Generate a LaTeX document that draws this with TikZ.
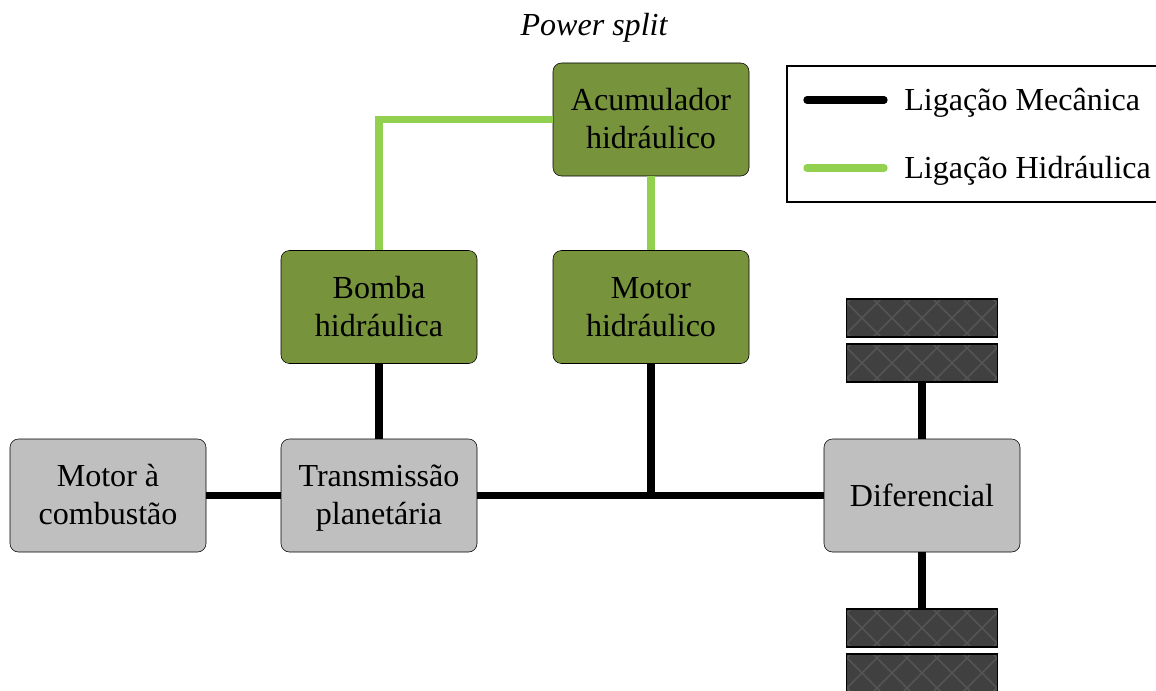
\documentclass[tikz,border=0pt]{standalone}
\usepackage{fontspec}
\setmainfont{Liberation Serif}
\definecolor{hydrogreen}{RGB}{146,208,80}
\definecolor{boxgreen}{RGB}{119,147,60}
\definecolor{boxgray}{RGB}{191,191,191}
\definecolor{tyredark}{RGB}{64,64,64}
\definecolor{tyrehatch}{RGB}{84,84,84}
\newcommand{\blockstrut}{\rule[-5.3pt]{0pt}{25pt}}
\tikzset{
	block/.style={draw=black, rounded corners=6pt, minimum width=196*0.025cm, minimum height=113*0.025cm, align=center, font=\fontsize{22.8}{27}\selectfont, inner sep=0pt},
	graybox/.style={block, fill=boxgray},
	greenbox/.style={block, fill=boxgreen},
	tyre/.style={draw=black, line width=1.4pt, fill=tyredark, minimum width=151*0.025cm, minimum height=38*0.025cm, inner sep=0pt,
		path picture={
			\foreach \i in {-8, -7, ..., 8}{
				\draw[tyrehatch, line width=1.1pt] ([xshift=\i*0.75cm-1cm, yshift=-1cm]path picture bounding box.center) -- ++(2cm, 2cm);
				\draw[tyrehatch, line width=1.1pt] ([xshift=\i*0.75cm+1cm, yshift=-1cm]path picture bounding box.center) -- ++(-2cm, 2cm);
			}
		}},
	mech/.style={line width=5.2pt, black},
	hydro/.style={line width=5.2pt, hydrogreen},
	legendtext/.style={anchor=west, inner sep=0pt, font=\fontsize{22.8}{27}\selectfont}
}
\begin{document}
\begin{tikzpicture}[x=0.025cm, y=-0.025cm]
	\useasboundingbox (0,0) rectangle (1156,690);
	\clip (0,0) rectangle (1156,690);

	%title
	\node (title) at (594, 28) [font=\fontsize{22.8}{27}\selectfont\itshape, inner sep=0pt]{Power split};

	%blocks
	\node (combustao) at (108, 495.5) [graybox]{\blockstrut Motor à\\combustão\blockstrut};
	\node (planetaria) at (379, 495.5) [graybox]{\blockstrut Transmissão\\planetária\blockstrut};
	\node (diferencial) at (922, 495.5) [graybox]{Diferencial};
	\node (bomba) at (379, 307) [greenbox]{\blockstrut Bomba\\hidráulica\blockstrut};
	\node (motorh) at (651, 307) [greenbox]{\blockstrut Motor\\hidráulico\blockstrut};
	\node (acumulador) at (651, 119.5) [greenbox]{\blockstrut Acumulador\\hidráulico\blockstrut};

	%wheels
	\node (rodaA) at (922, 318) [tyre]{};
	\node (rodaB) at (922, 363) [tyre]{};
	\node (rodaC) at (922, 628) [tyre]{};
	\node (rodaD) at (922, 673) [tyre]{};

	%mechanical links
	\draw[mech] (combustao) -- (planetaria);
	\draw[mech] (planetaria) -- (diferencial);
	\draw[mech] (planetaria) -- (bomba);
	\draw[mech] (motorh.south) -- (motorh.south |- diferencial.west);
	\draw[mech] (diferencial) -- (rodaB);
	\draw[mech] (diferencial) -- (rodaC);

	%hydraulic links
	\draw[hydro] (bomba.north) |- (acumulador.west);
	\draw[hydro] (acumulador) -- (motorh);

	%legend
	\node (legenda) at (975, 134) [draw=black, line width=1pt, minimum width=376*0.025cm, minimum height=136*0.025cm]{};
	\coordinate (mechA) at (807, 100);
	\coordinate (mechB) at (884, 100);
	\coordinate (hydroA) at (807, 168);
	\coordinate (hydroB) at (884, 168);
	\draw[mech, line cap=round] (mechA) -- (mechB);
	\draw[hydro, line cap=round] (hydroA) -- (hydroB);
	\node (textomech) at (904, 102.5) [legendtext]{Ligação Mecânica};
	\node (textohydro) at (904, 170.5) [legendtext]{Ligação Hidráulica};
\end{tikzpicture}
\end{document}
